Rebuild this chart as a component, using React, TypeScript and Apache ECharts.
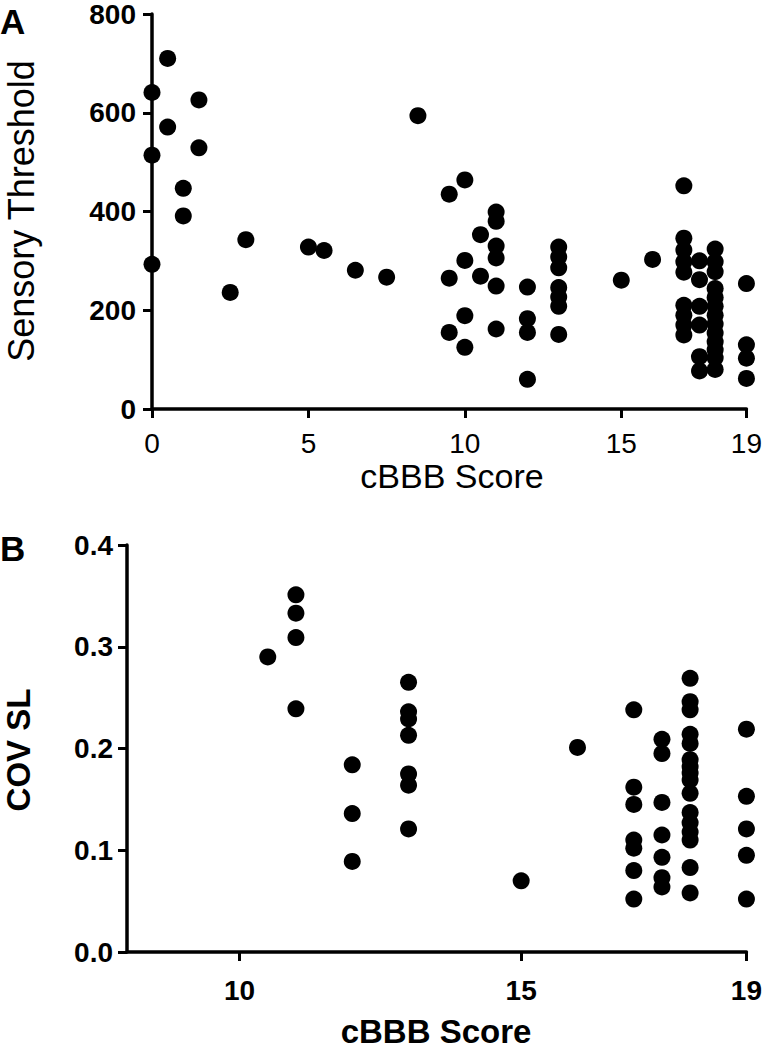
import React, { useEffect, useRef } from "react";
import * as echarts from "echarts";

// Panel A: cBBB score vs sensory threshold (values grouped by score column)
const panelAScores = [0, 0.5, 1, 1.5, 2.5, 3, 5, 5.5, 6.5, 7.5, 8.5, 9.5, 10, 10.5, 11, 12, 13, 15, 16, 17, 17.5, 18, 19];
const panelAThresholds: number[][] = [
  [641, 514, 293],
  [710, 571],
  [447, 391],
  [626, 529],
  [236],
  [343],
  [328],
  [321],
  [281],
  [267],
  [594],
  [435, 265, 155],
  [464, 301, 189, 125],
  [353, 269],
  [399, 380, 330, 306, 249, 162],
  [247, 183, 155, 60],
  [328, 308, 286, 246, 227, 208, 151],
  [261],
  [303],
  [452, 346, 322, 298, 277, 210, 190, 170, 150],
  [300, 262, 208, 170, 106, 77],
  [324, 298, 278, 244, 226, 208, 190, 172, 154, 136, 120, 104, 80],
  [254, 130, 103, 62],
];

// Panel B: cBBB score vs COV SL
const panelBScores = [10.5, 11, 12, 13, 15, 16, 17, 17.5, 18, 19];
const panelBCov: number[][] = [
  [0.29],
  [0.351, 0.333, 0.309, 0.239],
  [0.184, 0.136, 0.089],
  [0.265, 0.236, 0.229, 0.213, 0.175, 0.164, 0.121],
  [0.07],
  [0.201],
  [0.238, 0.162, 0.145, 0.11, 0.102, 0.08, 0.052],
  [0.209, 0.195, 0.147, 0.115, 0.093, 0.073, 0.064],
  [0.269, 0.246, 0.238, 0.214, 0.205, 0.189, 0.182, 0.176, 0.169, 0.156, 0.137, 0.127, 0.118, 0.11, 0.083, 0.058],
  [0.219, 0.153, 0.121, 0.095, 0.052],
];

const panelAXTicks = [0, 5, 10, 15, 19];
const panelBXTicks = [10, 15, 19];

const FONT = '"Liberation Sans", Arial, Helvetica, sans-serif';

function pairs(xs: number[], ys: number[][]) {
  const out: number[][] = [];
  xs.forEach((x, i) => ys[i].forEach((y) => out.push([x, y])));
  return out;
}

export default function App() {
  const ref = useRef<HTMLDivElement>(null);
  useEffect(() => {
    if (!ref.current) return;
    const chart = echarts.init(ref.current, undefined, { renderer: "svg" });
    const axisLine = { show: true, lineStyle: { color: "#000", width: 3.5 } };
    const axisTick = { show: true, length: 9, lineStyle: { color: "#000", width: 3 } };
    chart.setOption({
      animation: false,
      backgroundColor: "#fff",
      grid: [
        { left: 152, top: 11, width: 597, height: 398 },
        { left: 127, top: 545, width: 622, height: 407 },
      ],
      xAxis: [
        {
          gridIndex: 0,
          type: "value",
          min: 0,
          max: 19,
          axisLine,
          axisTick: { ...axisTick, customValues: panelAXTicks },
          splitLine: { show: false },
          axisLabel: {
            customValues: panelAXTicks,
            color: "#000",
            fontFamily: FONT,
            fontSize: 28,
            margin: 20,
          },
        },
        {
          gridIndex: 1,
          type: "value",
          min: 8,
          max: 19,
          axisLine,
          axisTick: { ...axisTick, customValues: panelBXTicks },
          splitLine: { show: false },
          axisLabel: {
            customValues: panelBXTicks,
            color: "#000",
            fontFamily: FONT,
            fontSize: 28,
            fontWeight: "bold",
            margin: 24,
          },
        },
      ],
      yAxis: [
        {
          gridIndex: 0,
          type: "value",
          min: 0,
          max: 800,
          interval: 200,
          axisLine,
          axisTick,
          splitLine: { show: false },
          axisLabel: {
            color: "#000",
            fontFamily: FONT,
            fontSize: 28,
            fontWeight: "bold",
            margin: 16,
          },
        },
        {
          gridIndex: 1,
          type: "value",
          min: 0,
          max: 0.4,
          interval: 0.1,
          axisLine,
          axisTick,
          splitLine: { show: false },
          axisLabel: {
            color: "#000",
            fontFamily: FONT,
            fontSize: 28,
            fontWeight: "bold",
            margin: 14,
            formatter: (v: number) => v.toFixed(1),
          },
        },
      ],
      series: [
        {
          type: "scatter",
          xAxisIndex: 0,
          yAxisIndex: 0,
          symbol: "circle",
          symbolSize: 17,
          itemStyle: { color: "#000", opacity: 1 },
          clip: false,
          data: pairs(panelAScores, panelAThresholds),
        },
        {
          type: "scatter",
          xAxisIndex: 1,
          yAxisIndex: 1,
          symbol: "circle",
          symbolSize: 17,
          itemStyle: { color: "#000", opacity: 1 },
          clip: false,
          data: pairs(panelBScores, panelBCov),
        },
      ],
      graphic: [
        {
          type: "text",
          x: 0,
          y: 21,
          style: { text: "A", font: `bold 35px ${FONT}`, fill: "#000", textVerticalAlign: "middle", textAlign: "left" },
        },
        {
          type: "text",
          x: 0,
          y: 548,
          style: { text: "B", font: `bold 35px ${FONT}`, fill: "#000", textVerticalAlign: "middle", textAlign: "left" },
        },
        {
          type: "text",
          x: 21,
          y: 211,
          rotation: Math.PI / 2,
          style: { text: "Sensory Threshold", font: `normal 36px ${FONT}`, fill: "#000", textAlign: "center", textVerticalAlign: "middle" },
        },
        {
          type: "text",
          x: 18,
          y: 750,
          rotation: Math.PI / 2,
          style: { text: "COV SL", font: `bold 33px ${FONT}`, fill: "#000", textAlign: "center", textVerticalAlign: "middle" },
        },
        {
          type: "text",
          x: 452,
          y: 476,
          style: { text: "cBBB Score", font: `normal 34px ${FONT}`, fill: "#000", textAlign: "center", textVerticalAlign: "middle" },
        },
        {
          type: "text",
          x: 436,
          y: 1031,
          style: { text: "cBBB Score", font: `bold 33px ${FONT}`, fill: "#000", textAlign: "center", textVerticalAlign: "middle" },
        },
      ],
    });
    return () => chart.dispose();
  }, []);
  return (
    <div
      ref={ref}
      style={{ position: "absolute", left: 0, top: 0, width: 765, height: 1050 }}
    />
  );
}
